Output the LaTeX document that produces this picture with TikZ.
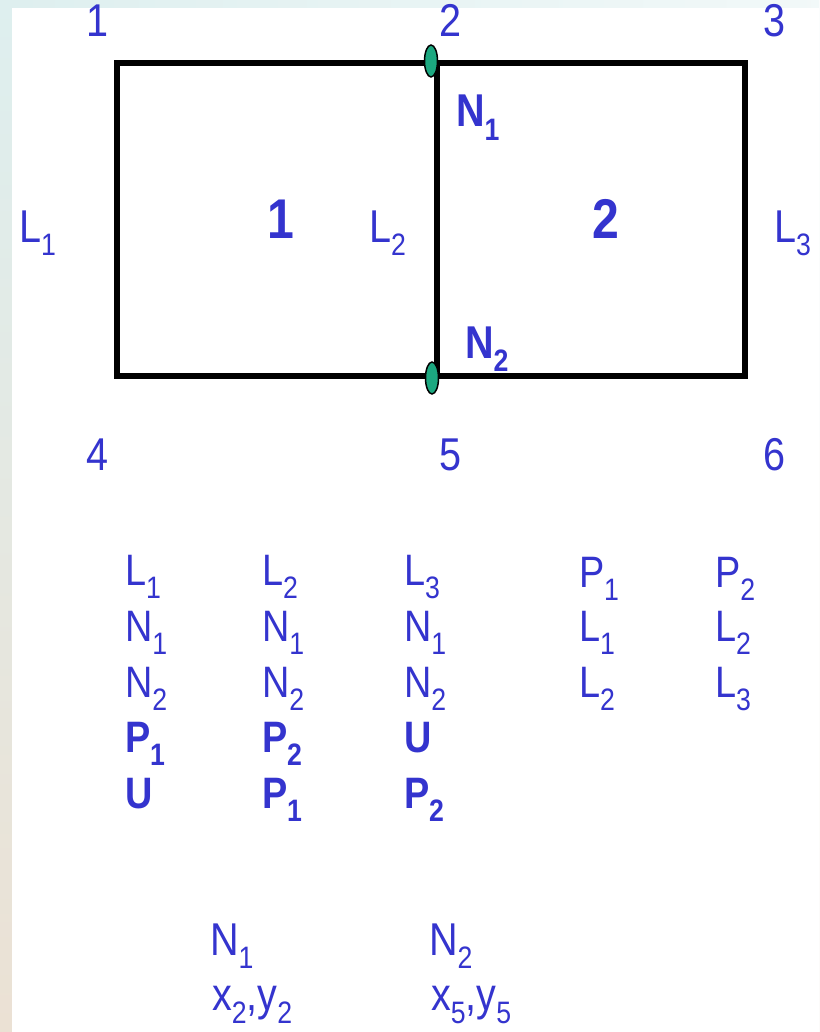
\documentclass[tikz,border=0pt]{standalone}
\usepackage{fontspec}
\setmainfont[FakeStretch=0.86]{Liberation Sans}
\usepackage{graphicx}
\definecolor{txtblue}{RGB}{52,52,206}
\definecolor{nodegreen}{RGB}{28,168,128}
\definecolor{bgtop}{RGB}{222,239,239}
\definecolor{bgbot}{RGB}{235,225,212}
\newcommand{\sbs}[1]{\raisebox{-0.3em}{\fontsize{31}{31}\selectfont #1}}
\tikzset{
  lbl/.style={inner sep=0pt, outer sep=0pt, text=txtblue, font=\fontsize{46}{54}\selectfont},
  tbl/.style={inner sep=0pt, outer sep=0pt, text=txtblue, anchor=base west, font=\fontsize{44}{52}\selectfont},
  tblb/.style={tbl, font=\fontsize{44}{52}\selectfont\bfseries},
  region/.style={inner sep=0pt, outer sep=0pt, text=txtblue, anchor=base, font=\fontsize{56}{66}\selectfont\bfseries},
  edge/.style={line width=5.5pt, black, line join=miter, line cap=rect},
  nodemark/.style={draw=black, line width=1.5pt, fill=nodegreen}
}
\begin{document}
\begin{tikzpicture}[x=1pt, y=-1pt]
\useasboundingbox (0,0) rectangle (819,1032);
% background
\shade[top color=bgtop, bottom color=bgbot] (0,0) rectangle (819,1032);
\shade[left color=bgtop, right color=white!60!bgtop] (12,0) rectangle (819,8);
\fill[white] (12,8) rectangle (819,1032);

% mesh geometry
\coordinate (c1) at (117,63);
\coordinate (c2) at (437,63);
\coordinate (c3) at (745,63);
\coordinate (c4) at (117,376);
\coordinate (c5) at (437,376);
\coordinate (c6) at (745,376);
\draw[edge] (c1) -- (c3) -- (c6) -- (c4) -- cycle;
\draw[edge] (c2) -- (c5);

% green node markers
\draw[nodemark] (431,61) ellipse [x radius=6.5, y radius=16];
\draw[nodemark] (432,378) ellipse [x radius=6.5, y radius=16];

% corner numbers
\node[lbl, anchor=base] (n1) at (97.5,37) {1};
\node[lbl, anchor=base] (n2) at (450,37) {2};
\node[lbl, anchor=base] (n3) at (774,37) {3};
\node[lbl, anchor=base] (n4) at (97.5,470) {4};
\node[lbl, anchor=base] (n5) at (450,470) {5};
\node[lbl, anchor=base] (n6) at (774,470) {6};

% region numbers
\node[region] (r1) at (281,238) {1};
\node[region] (r2) at (606,239) {2};

% line labels
\node[lbl, anchor=base west] (l1) at (19,242) {L\sbs{1}};
\node[lbl, anchor=base west] (l2) at (369,242) {L\sbs{2}};
\node[lbl, anchor=base west] (l3) at (774,242) {L\sbs{3}};

% node labels
\node[lbl, anchor=base west, font=\fontsize{46}{54}\selectfont\bfseries] (N1) at (456,127) {N\sbs{1}};
\node[lbl, anchor=base west, font=\fontsize{46}{54}\selectfont\bfseries] (N2) at (465,358) {N\sbs{2}};

% table column 1
\node[tbl]  (a1) at (125,585) {L\sbs{1}};
\node[tbl]  (a2) at (125,641) {N\sbs{1}};
\node[tbl]  (a3) at (125,697) {N\sbs{2}};
\node[tblb] (a4) at (125,752) {P\sbs{1}};
\node[tblb] (a5) at (125,808) {U};
% column 2
\node[tbl]  (b1) at (262,585) {L\sbs{2}};
\node[tbl]  (b2) at (262,641) {N\sbs{1}};
\node[tbl]  (b3) at (262,697) {N\sbs{2}};
\node[tblb] (b4) at (262,752) {P\sbs{2}};
\node[tblb] (b5) at (262,808) {P\sbs{1}};
% column 3
\node[tbl]  (d1) at (404,585) {L\sbs{3}};
\node[tbl]  (d2) at (404,641) {N\sbs{1}};
\node[tbl]  (d3) at (404,697) {N\sbs{2}};
\node[tblb] (d4) at (404,752) {U};
\node[tblb] (d5) at (404,808) {P\sbs{2}};
% column 4
\node[tbl] (e1) at (579,587) {P\sbs{1}};
\node[tbl] (e2) at (579,641) {L\sbs{1}};
\node[tbl] (e3) at (579,697) {L\sbs{2}};
% column 5
\node[tbl] (f1) at (715,587) {P\sbs{2}};
\node[tbl] (f2) at (715,641) {L\sbs{2}};
\node[tbl] (f3) at (715,697) {L\sbs{3}};

% coordinates of nodes
\node[lbl, anchor=base west] (g1) at (210,955) {N\sbs{1}};
\node[lbl, anchor=base west] (g2) at (212,1010) {x\sbs{2},y\sbs{2}};
\node[lbl, anchor=base west] (h1) at (429,955) {N\sbs{2}};
\node[lbl, anchor=base west] (h2) at (431,1010) {x\sbs{5},y\sbs{5}};
\end{tikzpicture}
\end{document}
